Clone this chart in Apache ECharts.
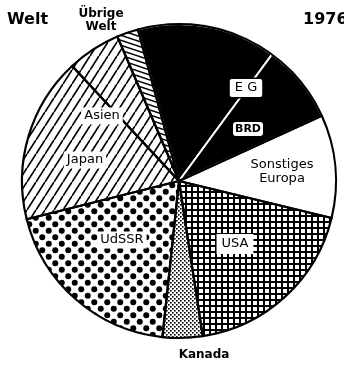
<!DOCTYPE html>
<html>
<head>
<meta charset="utf-8">
<script src="https://cdn.jsdelivr.net/npm/echarts/dist/echarts.min.js"></script>
<style>
  html, body { margin: 0; padding: 0; background: #fff; }
  #chart { width: 344px; height: 367px; }
</style>
</head>
<body>
<div id="chart"></div>
<script>
// World shares 1976 (percent), clockwise starting at the left edge of "Übrige Welt"
const regionNames  = ['Übrige Welt', 'EG', 'BRD', 'Sonstiges Europa', 'USA', 'Kanada', 'UdSSR', 'Japan', 'Asien'];
const regionShares = [2.2, 14.3, 8.1, 10.6, 18.8, 4.1, 19.4, 17.0, 5.5];
const regionLabels = ['Übrige\nWelt', 'E G', 'BRD', 'Sonstiges\nEuropa', 'USA', 'Kanada', 'UdSSR', 'Japan', 'Asien'];
// BRD is part of EG: the two share one black outline
const outlineGroups = [['Übrige Welt'], ['EG', 'BRD'], ['Sonstiges Europa'], ['USA'], ['Kanada'], ['UdSSR'], ['Japan'], ['Asien']];
const chartTitle = 'Welt';
const chartYear  = '1976';

// ---- fill patterns ----
function tile(w, h, draw) {
  const c = document.createElement('canvas');
  c.width = w; c.height = h;
  const g = c.getContext('2d');
  g.fillStyle = '#fff';
  g.fillRect(0, 0, w, h);
  g.fillStyle = '#000';
  g.strokeStyle = '#000';
  draw(g, w, h);
  return { image: c, repeat: 'repeat' };
}
function rising(g, w, h, lw) {            // "/" hatching
  g.lineWidth = lw;
  for (let m = -1; m <= 1; m++) {
    g.beginPath(); g.moveTo(0, h + m * h); g.lineTo(w, m * h); g.stroke();
  }
}
function falling(g, w, h, lw) {           // "\" hatching
  g.lineWidth = lw;
  for (let m = -1; m <= 1; m++) {
    g.beginPath(); g.moveTo(0, m * h); g.lineTo(w, h + m * h); g.stroke();
  }
}
const fills = {
  'Übrige Welt': tile(15, 5, (g, w, h) => falling(g, w, h, 1.5)),
  'EG': '#000',
  'BRD': '#000',
  'Sonstiges Europa': '#fff',
  'USA': tile(6, 6, g => { g.fillRect(0, 0, 6, 6); g.fillStyle = '#fff'; g.fillRect(1, 1, 4, 4); }),
  'Kanada': tile(4, 4, g => { g.fillRect(0, 0, 1.6, 1.6); g.fillRect(2, 2, 1.6, 1.6); }),
  'UdSSR': tile(13, 13, g => {
    g.beginPath(); g.arc(3.25, 3.25, 3.0, 0, Math.PI * 2); g.fill();
    g.beginPath(); g.arc(9.75, 9.75, 3.0, 0, Math.PI * 2); g.fill();
  }),
  'Japan': tile(9, 14, (g, w, h) => rising(g, w, h, 1.7)),
  'Asien': tile(9, 14, (g, w, h) => rising(g, w, h, 1.7))
};

// ---- label placement and style ----
const labelSpots = {
  'Übrige Welt': [101, 20], 'EG': [246, 88], 'BRD': [248, 129], 'Sonstiges Europa': [282, 172],
  'USA': [235, 244], 'Kanada': [204, 355], 'UdSSR': [122, 240], 'Japan': [85, 160], 'Asien': [102, 116]
};
const FONT = 'DejaVu Sans';
const boxed = { backgroundColor: '#fff', padding: [2, 3] };
const labelStyles = {
  'Übrige Welt': { fontSize: 12, fontWeight: 'bold', lineHeight: 13 },
  'EG': { fontSize: 13, backgroundColor: '#fff', borderColor: '#000', borderWidth: 1.5, borderRadius: 2, padding: [3, 5, 2, 5] },
  'BRD': { fontSize: 11, fontWeight: 'bold', backgroundColor: '#fff', borderColor: '#000', borderWidth: 1, borderRadius: 3, padding: [2, 2, 1, 2] },
  'Sonstiges Europa': { fontSize: 13, lineHeight: 14 },
  'USA': Object.assign({ fontSize: 13 }, boxed, { padding: [4, 5, 3, 5] }),
  'Kanada': { fontSize: 12, fontWeight: 'bold' },
  'UdSSR': Object.assign({ fontSize: 13 }, boxed),
  'Japan': Object.assign({ fontSize: 13 }, boxed),
  'Asien': Object.assign({ fontSize: 13 }, boxed)
};

const PIE_CENTER = [179, 181];
const PIE_RADIUS = 157;
const START = 113.1;

const fillData = regionNames.map((n, i) => ({
  name: n,
  value: regionShares[i],
  itemStyle: {
    color: fills[n],
    borderColor: '#fff',
    borderWidth: (n === 'EG' || n === 'BRD') ? 2 : 0
  }
}));

const outlineData = outlineGroups.map(group => ({
  name: group.join('+'),
  value: group.reduce((s, n) => s + regionShares[regionNames.indexOf(n)], 0)
}));

const labelData = regionNames.map((n, i) => ({
  name: n,
  value: regionShares[i],
  label: Object.assign({ show: true, formatter: regionLabels[i], color: '#000', fontFamily: FONT, align: 'center' }, labelStyles[n])
}));

const common = {
  type: 'pie',
  center: PIE_CENTER,
  radius: PIE_RADIUS,
  startAngle: START,
  clockwise: true,
  silent: true,
  animation: false,
  avoidLabelOverlap: false,
  labelLine: { show: false }
};

const chart = echarts.init(document.getElementById('chart'), null, { renderer: 'canvas' });
chart.setOption({
  backgroundColor: '#fff',
  animation: false,
  title: [
    { text: chartTitle, left: 7, top: 12, padding: 0, textStyle: { fontFamily: FONT, fontSize: 16, fontWeight: 'bold', color: '#000' } },
    { text: chartYear, left: 303, top: 12, padding: 0, textStyle: { fontFamily: FONT, fontSize: 16, fontWeight: 'bold', color: '#000' } }
  ],
  series: [
    Object.assign({}, common, { name: 'fill', z: 2, data: fillData, label: { show: false } }),
    Object.assign({}, common, {
      name: 'outline', z: 3, data: outlineData, label: { show: false },
      itemStyle: { color: 'rgba(0,0,0,0)', borderColor: '#000', borderWidth: 2.2 }
    }),
    Object.assign({}, common, {
      name: 'labels', z: 4, data: labelData,
      itemStyle: { color: 'rgba(0,0,0,0)', borderWidth: 0 },
      label: { show: true, position: 'inside' },
      labelLayout: function (p) {
        const s = labelSpots[regionNames[p.dataIndex]];
        return { x: s[0], y: s[1], align: 'center', verticalAlign: 'middle' };
      }
    })
  ]
});
</script>
</body>
</html>
